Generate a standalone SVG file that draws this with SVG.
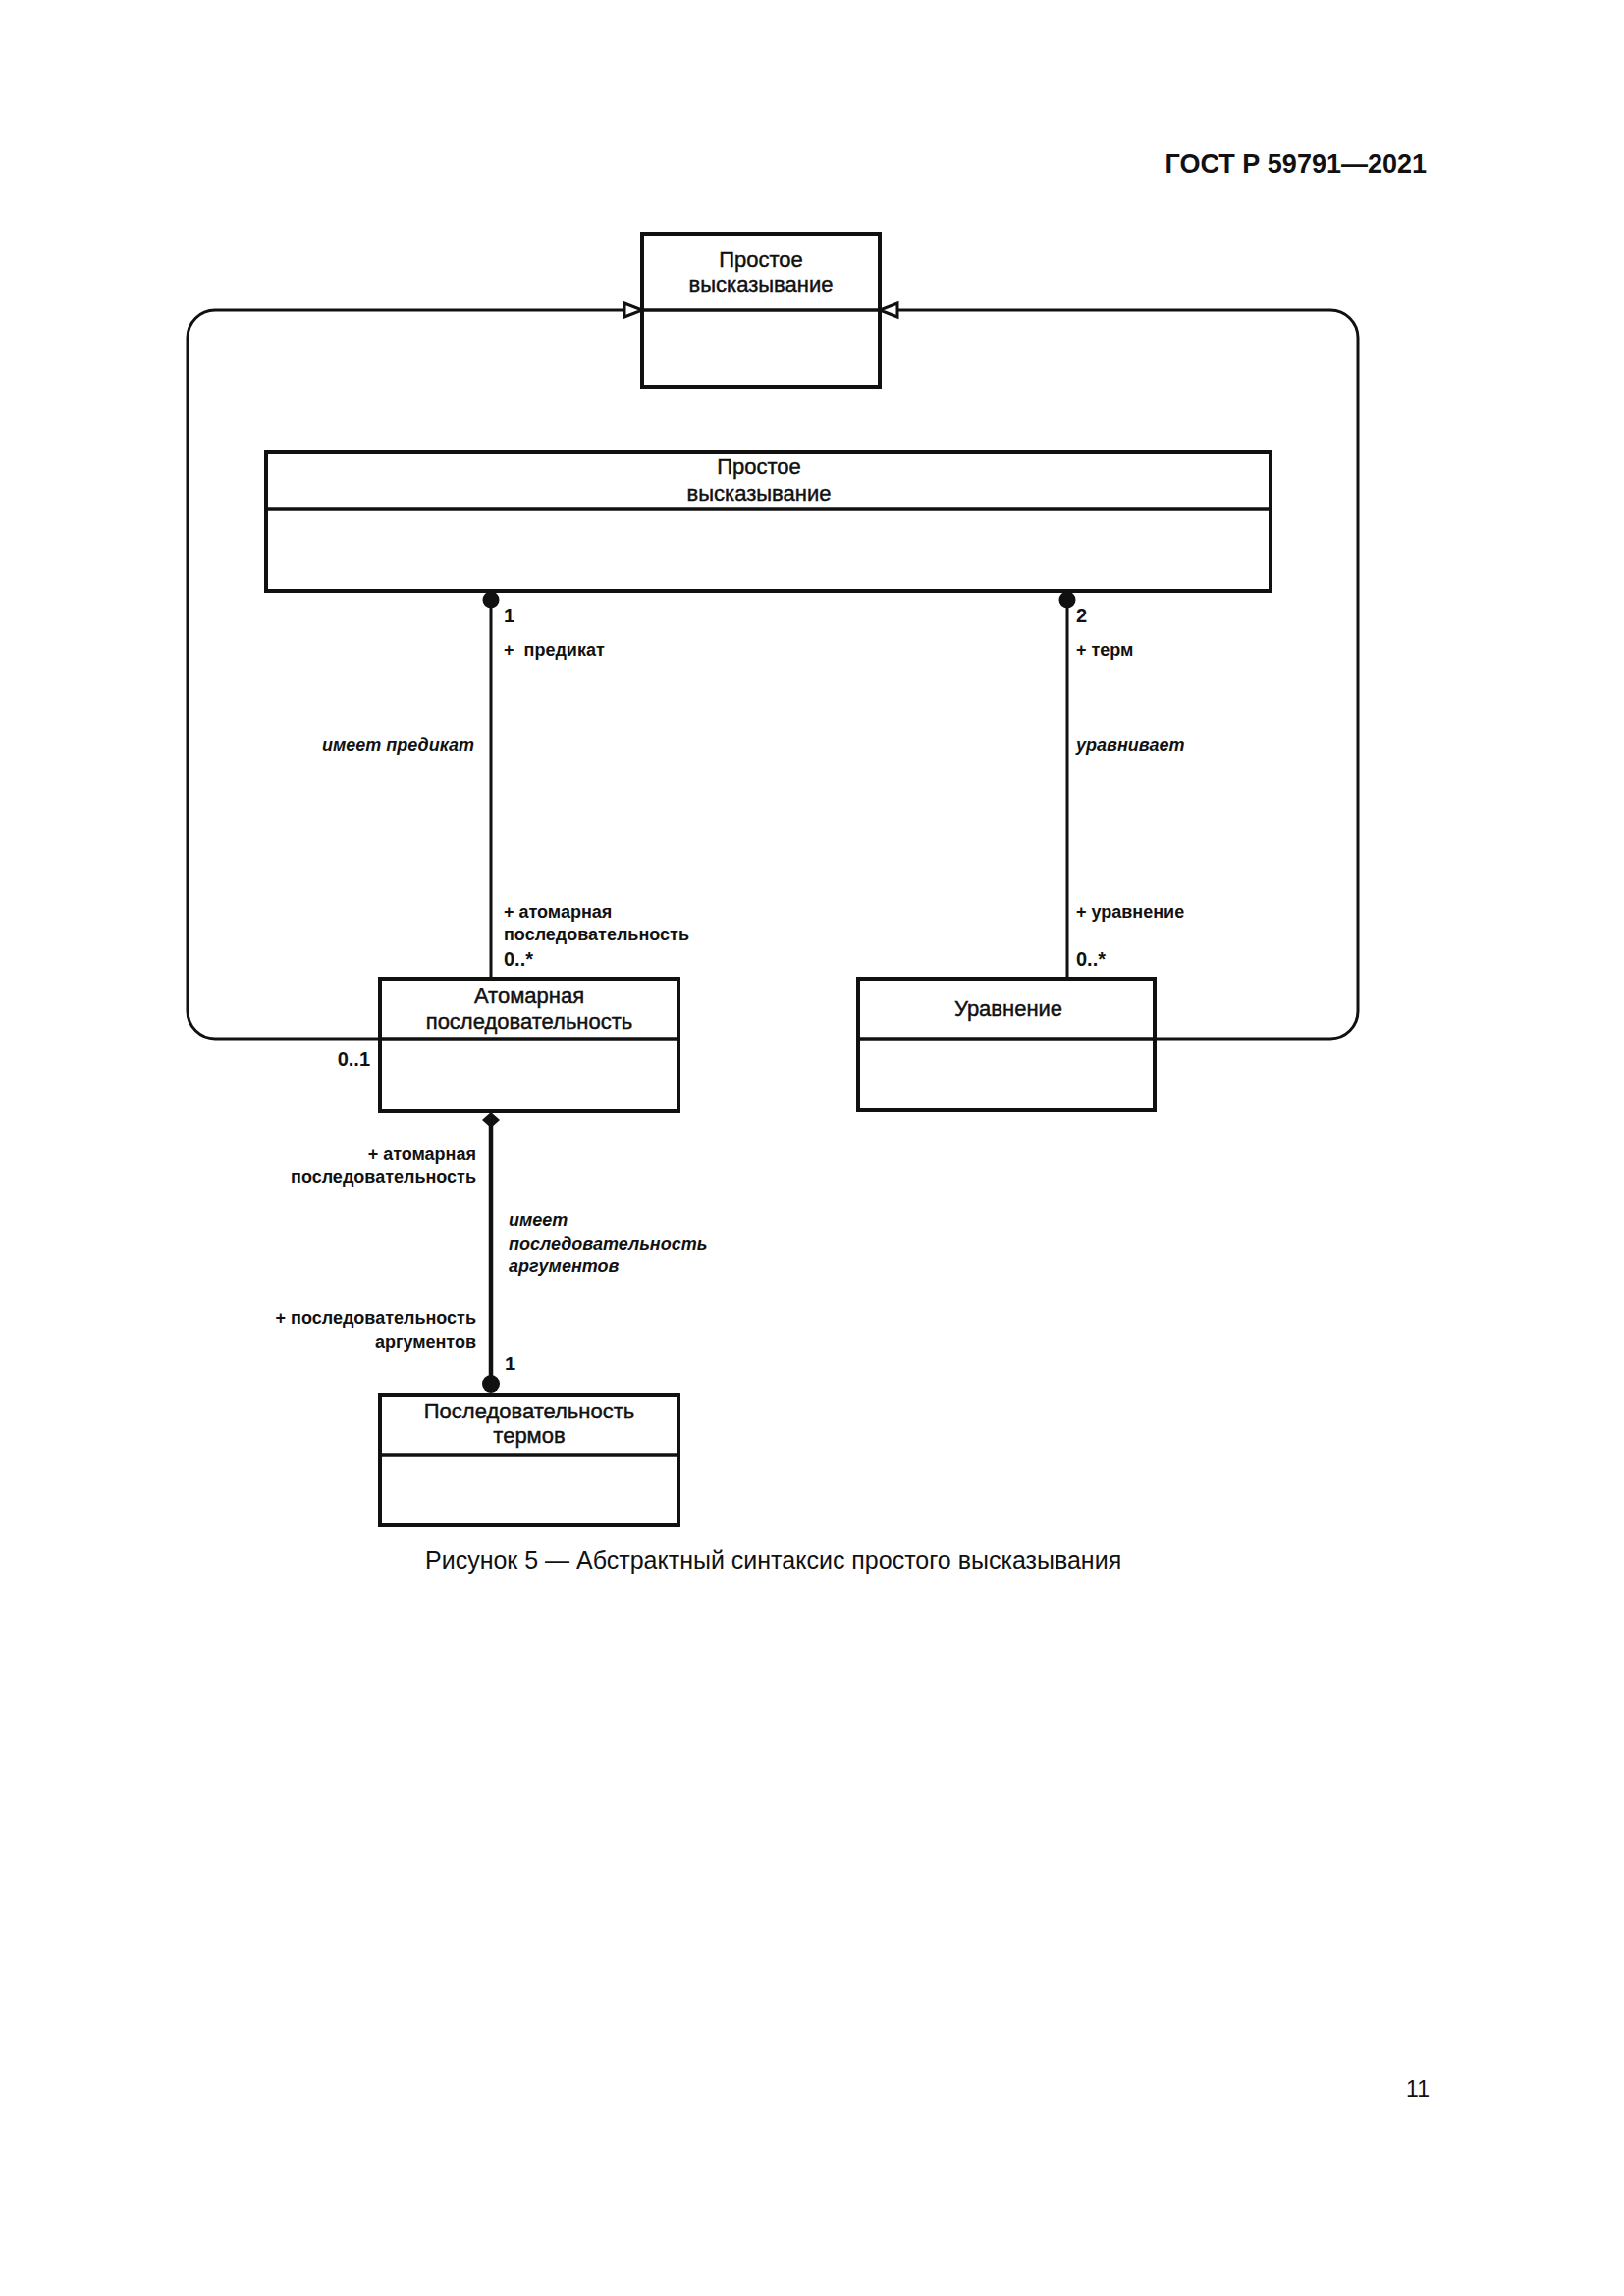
<svg xmlns="http://www.w3.org/2000/svg" width="1654" height="2339" viewBox="0 0 1654 2339">
<style>
  .box { fill: #fff; stroke: #111; stroke-width: 4; }
  .div { stroke: #111; stroke-width: 3.5; fill: none; }
  .ttl { font-family: "Liberation Sans", Arial, sans-serif; font-size: 22px; fill: #111; stroke: #111; stroke-width: 0.45; text-anchor: middle; }
  .lbl { font-family: "Liberation Sans", Arial, sans-serif; font-size: 18px; font-weight: bold; fill: #111; }
  .mul { font-size: 20px; }
  .it { font-style: italic; }
  .end { text-anchor: end; }
  .conn { fill: none; stroke: #111; stroke-width: 3; }
  .comp { fill: none; stroke: #111; stroke-width: 4.5; }
  .dot { fill: #111; }
</style>
<defs>
  <marker id="gen" markerUnits="userSpaceOnUse" markerWidth="24" markerHeight="20" refX="19" refY="8" orient="auto" overflow="visible">
    <path d="M1,1 L19,8 L1,15 Z" fill="#fff" stroke="#111" stroke-width="3" stroke-linejoin="miter"/>
  </marker>
</defs>
<rect width="1654" height="2339" fill="#fff"/>

<text x="1453" y="176" font-family="Liberation Sans, Arial, sans-serif" font-size="27" font-weight="bold" fill="#111" text-anchor="end">ГОСТ Р 59791—2021</text>

<g id="connectors">
  <path class="conn" d="M387,1058 H219 A28,28 0 0 1 191,1030 V344 A28,28 0 0 1 219,316 H654" marker-end="url(#gen)"/>
  <path class="conn" d="M1176,1058 H1355 A28,28 0 0 0 1383,1030 V344 A28,28 0 0 0 1355,316 H896" marker-end="url(#gen)"/>
  <line class="conn" x1="500" y1="611" x2="500" y2="997"/>
  <circle class="dot" cx="500" cy="611" r="8.5"/>
  <line class="conn" x1="1087" y1="611" x2="1087" y2="997"/>
  <circle class="dot" cx="1087" cy="611" r="8.5"/>
  <line class="comp" x1="500" y1="1140" x2="500" y2="1410"/>
  <polygon class="dot" points="500,1133 509,1141 500,1149 491,1141"/>
  <circle class="dot" cx="500" cy="1410" r="9"/>
  <text class="lbl mul" x="513" y="634">1</text>
  <text class="lbl" x="513" y="668" xml:space="preserve">+  предикат</text>
  <text class="lbl it end" x="483" y="765">имеет предикат</text>
  <text class="lbl" x="513" y="935">+ атомарная</text>
  <text class="lbl" x="513" y="958">последовательность</text>
  <text class="lbl mul" x="513" y="984">0..*</text>
  <text class="lbl mul" x="1096" y="634">2</text>
  <text class="lbl" x="1096" y="668">+ терм</text>
  <text class="lbl it" x="1096" y="765">уравнивает</text>
  <text class="lbl" x="1096" y="935">+ уравнение</text>
  <text class="lbl mul" x="1096" y="984">0..*</text>
  <text class="lbl mul end" x="377" y="1086">0..1</text>
  <text class="lbl end" x="485" y="1182">+ атомарная</text>
  <text class="lbl end" x="485" y="1205">последовательность</text>
  <text class="lbl it" x="518" y="1249">имеет</text>
  <text class="lbl it" x="518" y="1273">последовательность</text>
  <text class="lbl it" x="518" y="1296">аргументов</text>
  <text class="lbl end" x="485" y="1349">+ последовательность</text>
  <text class="lbl end" x="485" y="1373">аргументов</text>
  <text class="lbl mul" x="514" y="1396">1</text>
</g>

<g id="node-top">
  <rect class="box" x="654" y="238" width="242" height="156"/>
  <line class="div" x1="654" y1="316" x2="896" y2="316"/>
  <text class="ttl" x="775" y="272">Простое</text>
  <text class="ttl" x="775" y="297">высказывание</text>
</g>

<g id="node-main">
  <rect class="box" x="271" y="460" width="1023" height="142"/>
  <line class="div" x1="271" y1="519" x2="1294" y2="519"/>
  <text class="ttl" x="773" y="483">Простое</text>
  <text class="ttl" x="773" y="510">высказывание</text>
</g>

<g id="node-atomic">
  <rect class="box" x="387" y="997" width="304" height="135"/>
  <line class="div" x1="387" y1="1058" x2="691" y2="1058"/>
  <text class="ttl" x="539" y="1022">Атомарная</text>
  <text class="ttl" x="539" y="1048">последовательность</text>
</g>

<g id="node-equation">
  <rect class="box" x="874" y="997" width="302" height="134"/>
  <line class="div" x1="874" y1="1058" x2="1176" y2="1058"/>
  <text class="ttl" x="1027" y="1035">Уравнение</text>
</g>

<g id="node-terms">
  <rect class="box" x="387" y="1421" width="304" height="133"/>
  <line class="div" x1="387" y1="1482" x2="691" y2="1482"/>
  <text class="ttl" x="539" y="1445">Последовательность</text>
  <text class="ttl" x="539" y="1470">термов</text>
</g>

<text x="433" y="1598" font-family="Liberation Sans, Arial, sans-serif" font-size="25" fill="#111">Рисунок 5 — Абстрактный синтаксис простого высказывания</text>
<text x="1456" y="2136" font-family="Liberation Sans, Arial, sans-serif" font-size="23" fill="#111" text-anchor="end">11</text>
</svg>
